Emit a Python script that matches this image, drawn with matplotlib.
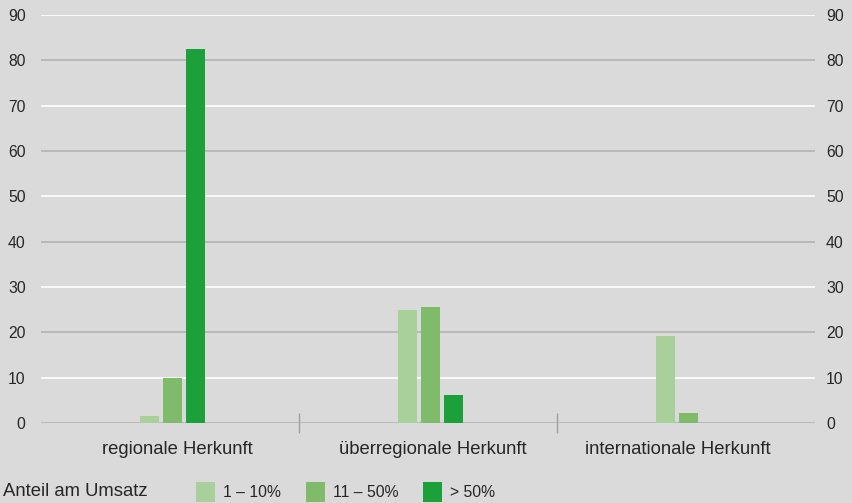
import numpy as np
import matplotlib.pyplot as plt

# data
categories = ['regionale Herkunft', 'überregionale Herkunft', 'internationale Herkunft']
series_labels = ['1 – 10%', '11 – 50%', '> 50%']
share_low = [1.5, 25.0, 19.2]
share_mid = [10.0, 25.6, 2.1]
share_high = [82.6, 6.2, 0.0]
y_ticks = [0, 10, 20, 30, 40, 50, 60, 70, 80, 90]

colors = ['#a9d09a', '#80bb6c', '#1ca13a']
bg = '#dadada'
text_color = '#262626'

plt.rcParams['font.family'] = ['Liberation Sans', 'DejaVu Sans']

fig = plt.figure(figsize=(8.52, 5.03), dpi=100, facecolor=bg)
ax = fig.add_axes([41 / 852, 80 / 503, 774 / 852, 408 / 503])
ax.set_facecolor(bg)

# alternating grid: odd tens white, even twenties gray
for v in y_ticks:
    col = '#b3b3b3' if v % 20 == 0 else 'white'
    ax.axhline(v, color=col, lw=1.2, zorder=1)

x = np.arange(len(categories))
width = 0.074
step = 0.089
shift = 0.01
for i, (vals, c, lab) in enumerate(zip([share_low, share_mid, share_high], colors, series_labels)):
    ax.bar(x + shift + (i - 1) * step, vals, width, color=c, label=lab, zorder=2)

ax.set_xlim(-0.5, 2.5)
ax.set_ylim(0, 90)
ax.set_yticks(y_ticks)
ax.tick_params(axis='y', length=0, labelsize=11.3, labelcolor=text_color, pad=11)

# right-hand copy of the value axis
ax_r = ax.twinx()
ax_r.set_ylim(0, 90)
ax_r.set_yticks(y_ticks)
ax_r.tick_params(axis='y', length=0, labelsize=11.3, labelcolor=text_color, pad=8)

# category labels sit slightly off the group centres in the original
label_nudge = np.array([0.029, 0.02, -0.031])
ax.set_xticks(x + label_nudge)
ax.set_xticklabels(categories)
ax.tick_params(axis='x', which='major', length=0, labelsize=13.3, labelcolor=text_color, pad=13)
ax.set_xticks([0.5, 1.5], minor=True)
ax.tick_params(axis='x', which='minor', direction='inout', length=14.4, width=1, color='#a0a0a0')

for a in (ax, ax_r):
    for s in a.spines.values():
        s.set_visible(False)

fig.text(3 / 852, 1 - 491 / 503, 'Anteil am Umsatz', fontsize=13.3, color=text_color, va='center')
ax.legend(loc='center left', bbox_to_anchor=(190 / 852, 1 - 492 / 503), bbox_transform=fig.transFigure,
          ncol=3, frameon=False, fontsize=11.3, labelcolor=text_color,
          handlelength=1.2, handleheight=1.5, handletextpad=0.5, columnspacing=1.6, borderaxespad=0)

fig.savefig('out.png', dpi=100, facecolor=bg)
